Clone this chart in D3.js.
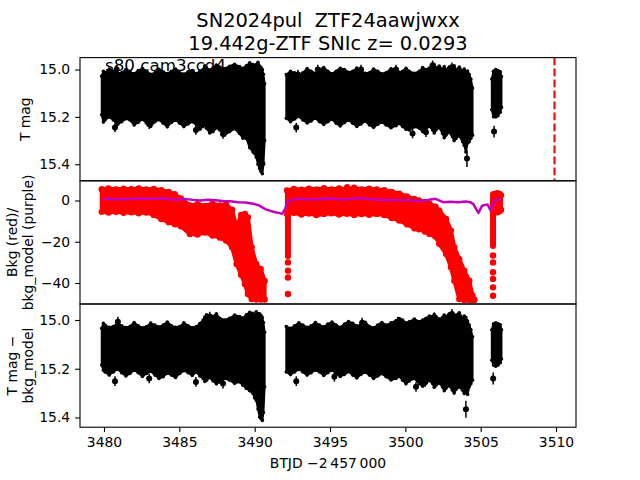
<!DOCTYPE html>
<html>
<head>
<meta charset="utf-8">
<script src="https://d3js.org/d3.v7.min.js"></script>
<style>
  body { margin: 0; background: #fff; }
  text { font-family: "DejaVu Sans", sans-serif; white-space: pre; }
</style>
</head>
<body>
<script>

 /*  Data  */

 // top panel: T mag, dense band given as upper / lower edge per time
 var segA_t = [3479.85, 3479.96, 3480.07, 3480.35, 3480.62, 3480.90, 3481.17, 3481.45, 3481.72, 3482.00,
               3482.27, 3482.55, 3482.83, 3483.10, 3483.38, 3483.65, 3483.93, 3484.20, 3484.48, 3484.75,
               3485.03, 3485.30, 3485.58, 3485.86, 3486.14, 3486.36, 3486.58, 3486.69, 3486.80, 3487.02,
               3487.24, 3487.46, 3487.68, 3488.01, 3488.34, 3488.67, 3489.00, 3489.22, 3489.45, 3489.67,
               3489.89, 3490.00, 3490.11, 3490.22, 3490.33, 3490.42, 3490.51, 3490.58, 3490.66];
 var tmagTopA = [15.028, 15.008, 15.014, 14.998, 15.007, 15.016, 15.014, 15.000, 15.010, 15.018,
                 15.004, 14.996, 15.007, 15.020, 15.014, 14.999, 15.010, 15.017, 15.007, 14.998,
                 15.014, 15.019, 15.010, 15.004, 15.018, 15.006, 15.000, 14.984, 14.993, 15.002,
                 14.993, 14.981, 14.990, 14.996, 14.986, 14.978, 14.988, 14.995, 14.984, 14.972,
                 14.979, 14.986, 14.979, 14.970, 14.985, 14.992, 15.000, 15.020, 15.060];
 var tmagBotA = [15.191, 15.222, 15.213, 15.200, 15.213, 15.232, 15.220, 15.208, 15.213, 15.234,
                 15.223, 15.210, 15.227, 15.240, 15.220, 15.212, 15.227, 15.242, 15.223, 15.214,
                 15.227, 15.241, 15.230, 15.220, 15.234, 15.252, 15.240, 15.232, 15.248, 15.268,
                 15.262, 15.246, 15.255, 15.276, 15.262, 15.250, 15.270, 15.290, 15.291, 15.330,
                 15.348, 15.355, 15.370, 15.400, 15.418, 15.430, 15.440, 15.400, 15.300];

 var segB_t = [3492.10, 3492.38, 3492.65, 3492.93, 3493.20, 3493.48, 3493.75, 3494.03, 3494.30, 3494.58,
               3494.86, 3495.13, 3495.41, 3495.68, 3495.96, 3496.23, 3496.51, 3496.78, 3497.06, 3497.34,
               3497.62, 3497.89, 3498.17, 3498.44, 3498.72, 3499.05, 3499.38, 3499.60, 3499.82, 3500.04,
               3500.26, 3500.60, 3500.93, 3501.15, 3501.37, 3501.59, 3501.81, 3501.92, 3502.03, 3502.25,
               3502.47, 3502.58, 3502.69, 3502.91, 3503.13, 3503.24, 3503.36, 3503.58, 3503.80, 3503.91,
               3504.02, 3504.13, 3504.24, 3504.35, 3504.46];
 var tmagTopB = [15.021, 15.008, 15.014, 15.022, 15.014, 14.996, 15.007, 15.016, 15.000, 14.992,
                 15.007, 15.018, 15.007, 14.995, 15.000, 15.012, 15.007, 14.994, 15.007, 15.016,
                 15.014, 14.998, 15.007, 15.018, 15.014, 14.997, 15.000, 15.012, 15.007, 14.995,
                 15.007, 15.016, 15.007, 14.992, 15.000, 14.994, 14.986, 14.980, 14.993, 14.985,
                 15.000, 14.988, 15.000, 14.990, 14.993, 14.984, 15.000, 14.990, 15.007, 14.998,
                 15.014, 15.006, 15.021, 15.040, 15.078];
 var tmagBotB = [15.206, 15.220, 15.209, 15.198, 15.213, 15.226, 15.217, 15.206, 15.220, 15.232,
                 15.220, 15.210, 15.227, 15.238, 15.224, 15.214, 15.227, 15.240, 15.230, 15.218,
                 15.234, 15.244, 15.231, 15.222, 15.234, 15.246, 15.237, 15.228, 15.241, 15.252,
                 15.255, 15.242, 15.248, 15.262, 15.251, 15.240, 15.255, 15.268, 15.255, 15.245,
                 15.270, 15.288, 15.277, 15.265, 15.284, 15.300, 15.291, 15.280, 15.305, 15.320,
                 15.348, 15.310, 15.305, 15.290, 15.277];

 var segC_t = [3505.74, 3505.85, 3506.00, 3506.15, 3506.30, 3506.38];
 var tmagTopC = [15.040, 15.007, 15.000, 15.004, 15.010, 15.030];
 var tmagBotC = [15.170, 15.199, 15.200, 15.195, 15.180, 15.160];

 // isolated points with error bars (top panel)
 var tmagOutT = [3480.73, 3480.84, 3483.00, 3486.10, 3487.90, 3490.51, 3492.76, 3492.87, 3494.19, 3497.06, 3499.38, 3500.48, 3501.37, 3501.81, 3503.09, 3504.09, 3505.89];
 var tmagOutV = [15.245, 15.000, 15.231, 15.255, 15.272, 15.397, 15.245, 15.021, 15.000, 15.000, 15.000, 15.270, 15.265, 14.982, 14.990, 15.376, 15.262];
 var tmagOutE = [0.020, 0.020, 0.020, 0.020, 0.020, 0.035, 0.020, 0.020, 0.020, 0.020, 0.020, 0.020, 0.020, 0.020, 0.020, 0.035, 0.025];

 // peak time marker
 var peakT = 3509.9;

 // bottom panel: T mag - bkg_model (same time grid as the top panel)
 var detTopA = [15.034, 15.014, 15.021, 15.030, 15.027, 15.012, 15.024, 15.031, 15.027, 15.010,
                15.024, 15.032, 15.027, 15.013, 15.021, 15.028, 15.021, 15.008, 15.024, 15.030,
                15.027, 15.012, 15.024, 15.031, 15.027, 15.015, 15.000, 14.988, 14.979, 14.992,
                14.986, 14.975, 14.993, 15.000, 14.993, 14.980, 14.986, 14.992, 14.979, 14.968,
                14.973, 14.982, 14.966, 14.975, 14.975, 14.982, 14.990, 15.010, 15.050];
 var detBotA = [15.185, 15.206, 15.213, 15.226, 15.213, 15.202, 15.216, 15.230, 15.219, 15.206,
                15.216, 15.232, 15.219, 15.210, 15.226, 15.240, 15.233, 15.218, 15.226, 15.236,
                15.219, 15.208, 15.216, 15.228, 15.213, 15.230, 15.240, 15.252, 15.247, 15.236,
                15.250, 15.262, 15.254, 15.240, 15.247, 15.260, 15.254, 15.268, 15.281, 15.290,
                15.302, 15.320, 15.330, 15.365, 15.398, 15.405, 15.412, 15.380, 15.274];
 var detTopB = [15.027, 15.034, 15.024, 15.012, 15.021, 15.030, 15.024, 15.010, 15.021, 15.028,
                15.017, 15.008, 15.021, 15.030, 15.017, 15.006, 15.014, 15.024, 15.021, 15.009,
                15.027, 15.032, 15.021, 15.010, 15.021, 15.012, 15.003, 14.994, 15.000, 15.012,
                15.007, 14.996, 15.007, 15.000, 14.993, 14.984, 14.986, 14.978, 14.986, 14.996,
                14.990, 14.980, 14.986, 14.975, 14.973, 14.984, 14.980, 14.970, 14.993, 14.984,
                14.990, 15.004, 15.021, 15.040, 15.069];
 var detBotB = [15.213, 15.224, 15.213, 15.203, 15.213, 15.226, 15.216, 15.206, 15.213, 15.228,
                15.216, 15.206, 15.219, 15.232, 15.223, 15.212, 15.226, 15.238, 15.223, 15.214,
                15.226, 15.240, 15.230, 15.220, 15.233, 15.246, 15.240, 15.232, 15.247, 15.262,
                15.250, 15.240, 15.261, 15.272, 15.258, 15.248, 15.261, 15.276, 15.268, 15.258,
                15.275, 15.290, 15.281, 15.270, 15.288, 15.300, 15.285, 15.275, 15.288, 15.302,
                15.290, 15.305, 15.274, 15.262, 15.247];
 var detTopC = [15.040, 15.016, 15.012, 15.016, 15.020, 15.040];
 var detBotC = [15.165, 15.185, 15.190, 15.185, 15.175, 15.160];

 var detOutT = [3480.73, 3480.92, 3483.00, 3486.10, 3487.02, 3487.90, 3490.40, 3492.76, 3495.29, 3497.13, 3499.49, 3500.71, 3501.33, 3501.92, 3503.09, 3504.02, 3505.83];
 var detOutV = [15.251, 15.007, 15.240, 15.254, 14.986, 15.261, 15.370, 15.251, 15.233, 15.011, 15.007, 15.274, 15.254, 14.989, 14.975, 15.366, 15.240];
 var detOutE = [0.020, 0.020, 0.020, 0.020, 0.020, 0.020, 0.035, 0.020, 0.020, 0.020, 0.020, 0.020, 0.020, 0.020, 0.020, 0.035, 0.025];

 // middle panel: background (red) band edges
 var bkgA_t = [3479.85, 3480.30, 3480.80, 3481.30, 3481.80, 3482.30, 3482.80, 3483.30, 3483.80, 3484.30, 3484.70, 3485.10, 3485.70, 3486.20, 3486.70, 3487.20, 3487.70, 3488.10, 3488.50, 3488.80, 3489.10, 3489.35, 3489.55, 3489.80, 3490.10, 3490.40, 3490.66];
 var bkgTopA = [5.5, 5.8, 5.4, 5.7, 5.5, 5.9, 5.4, 5.6, 5.0, 4.2, 3.0, 1.0, -2.4, -1.8, -2.6, -1.5, -2.4, -1.9, -4.5, -13.0, -7.0, -6.5, -8.1, -22.7, -30.8, -33.2, -39.0];
 var bkgBotA = [-5.5, -5.8, -5.5, -6.0, -5.7, -6.2, -5.8, -7.0, -9.0, -10.5, -11.5, -12.5, -16.2, -16.5, -15.5, -17.0, -18.0, -19.4, -22.7, -30.8, -36.0, -40.5, -45.3, -47.8, -48.0, -48.0, -48.0];

 var bkgB_t = [3492.15, 3492.60, 3493.10, 3493.60, 3494.10, 3494.60, 3495.10, 3495.60, 3496.10, 3496.60, 3497.10, 3497.60, 3498.10, 3498.60, 3499.10, 3499.60, 3500.10, 3500.60, 3500.90, 3501.30, 3501.60, 3502.00, 3502.25, 3502.70, 3503.03, 3503.25, 3503.58, 3503.91, 3504.24, 3504.46, 3504.57];
 var bkgTopB = [4.9, 5.6, 5.2, 5.7, 5.4, 6.0, 5.3, 5.8, 5.5, 6.2, 5.4, 5.7, 5.3, 5.0, 4.2, 3.3, 2.0, 0.8, 0.0, -0.8, -1.5, -3.0, -4.9, -8.9, -14.6, -22.7, -28.4, -34.0, -38.9, -46.2, -48.0];
 var bkgBotB = [-6.5, -6.0, -6.8, -6.3, -7.0, -6.5, -6.2, -6.8, -6.4, -7.0, -6.6, -6.9, -6.5, -7.0, -8.5, -9.7, -11.5, -13.5, -14.0, -15.0, -16.2, -17.5, -21.0, -25.9, -32.4, -38.9, -47.8, -48.2, -48.2, -48.2, -48.2];

 var bkgC_t = [3505.85, 3505.95, 3506.10, 3506.25, 3506.35];
 var bkgTopC = [2.0, 3.2, 3.5, 3.2, 2.5];
 var bkgBotC = [-4.0, -5.7, -5.7, -5.2, -4.5];

 // vertical streaks of red points at the start of segments
 var bkgColT = [3492.21, 3505.82];
 var bkgColTop = [4.5, 3.0];
 var bkgColBot = [-27.0, -22.0];
 var bkgDotT = [3492.21, 3492.21, 3492.21, 3492.21, 3505.82, 3505.82, 3505.82, 3505.82, 3505.82, 3505.82, 3496.14];
 var bkgDotV = [-30.0, -34.0, -37.3, -45.3, -26.7, -30.0, -34.8, -38.0, -42.1, -46.2, 6.5];

 // bkg_model (purple)
 var modelT = [3479.9, 3480.4, 3480.9, 3481.4, 3481.9, 3482.4, 3482.9, 3483.4, 3483.9, 3484.4,
               3484.9, 3485.4, 3485.9, 3486.4, 3486.9, 3487.4, 3487.9, 3488.4, 3488.9, 3489.4,
               3489.9, 3490.3, 3490.7, 3491.0, 3491.3, 3491.6, 3491.8, 3492.0, 3492.2, 3492.5,
               3493.0, 3493.5, 3494.0, 3494.5, 3495.0, 3495.5, 3496.0, 3496.5, 3497.0, 3497.5,
               3498.0, 3498.5, 3499.0, 3499.5, 3500.0, 3500.5, 3501.0, 3501.5, 3502.0, 3502.5,
               3503.0, 3503.5, 3504.0, 3504.3, 3504.5, 3504.85, 3505.1, 3505.45, 3505.67, 3505.95,
               3506.35];
 var modelV = [0.6, 0.9, 0.5, 0.8, 0.6, 1.0, 0.7, 0.9, 1.1, 0.6,
               0.4, 0.7, 0.3, 0.0, 0.4, 0.1, -0.2, -0.4, -0.8, -1.0,
               -1.6, -2.4, -4.2, -4.9, -5.6, -6.0, -6.5, -4.5, -0.5, 0.4,
               0.8, 0.5, 0.9, 0.6, 1.0, 0.7, 0.5, 0.9, 1.2, 0.8,
               0.5, 0.2, 0.4, 0.0, 0.3, 0.0, -0.3, 0.2, 0.8, -0.8,
               -0.6, -0.9, -0.5, -0.8, -1.6, -6.0, -2.5, -1.9, -4.9, 0.0,
               0.8];

 // ticks
 var xTicks = [3480, 3485, 3490, 3495, 3500, 3505, 3510];
 var magTicks = [15.0, 15.2, 15.4];
 var magTickLabels = ["15.0", "15.2", "15.4"];
 var bkgTicks = [0, -20, -40];
 var bkgTickLabels = ["0", "\u221220", "\u221240"];

 var titleLines = ["SN2024pul  ZTF24aawjwxx", "19.442g-ZTF SNIc z= 0.0293"];
 var cornerNote = "s80 cam3ccd4";


 /*  Display Settings  */

 var W = 640, H = 480;
 var margin = {top: 57.6, right: 64, bottom: 52.8, left: 80};
 var plotW = W - margin.left - margin.right;
 var panelH = (H - margin.top - margin.bottom) / 3;
 var tickFont = 13.9;

 var svg = d3.select("body").append("svg")
   .attr("width", W)
   .attr("height", H)
   .style("background", "#fff");

 var x = d3.scaleLinear().domain([3478.407, 3511.327]).range([margin.left, margin.left + plotW]);

 // three stacked panels
 var p1Top = margin.top, p2Top = margin.top + panelH, p3Top = margin.top + 2 * panelH;
 var yMag = d3.scaleLinear().domain([14.9497, 15.4697]).range([p1Top, p1Top + panelH]);
 var yBkg = d3.scaleLinear().domain([9.55, -50.18]).range([p2Top, p2Top + panelH]);
 var yDet = d3.scaleLinear().domain([14.9344, 15.4398]).range([p3Top, p3Top + panelH]);

 /**
  * dense band between two edges, with round markers on its edges
  */
 function drawBand(y, ts, top, bot, color, sw, r) {
   var rows = ts.map(function (t, i) { return {t: t, a: top[i], b: bot[i]}; });
   var area = d3.area()
     .x(function (d) { return x(d.t); })
     .y0(function (d) { return y(d.b); })
     .y1(function (d) { return y(d.a); });
   svg.append("path")
     .datum(rows)
     .attr("d", area)
     .attr("fill", color)
     .attr("stroke", color)
     .attr("stroke-width", sw)
     .attr("stroke-linejoin", "round");

   var edge = [];
   rows.forEach(function (d) { edge.push([d.t, d.a]); edge.push([d.t, d.b]); });
   svg.append("g").selectAll("circle").data(edge).enter().append("circle")
     .attr("cx", function (d) { return x(d[0]); })
     .attr("cy", function (d) { return y(d[1]); })
     .attr("r", r)
     .attr("fill", color);
 }

 /**
  * single points with vertical error bars
  */
 function drawOutliers(y, ts, vs, es) {
   var rows = ts.map(function (t, i) { return {t: t, v: vs[i], e: es[i]}; });
   var g = svg.append("g");
   g.selectAll("line").data(rows).enter().append("line")
     .attr("x1", function (d) { return x(d.t); })
     .attr("x2", function (d) { return x(d.t); })
     .attr("y1", function (d) { return y(d.v - d.e); })
     .attr("y2", function (d) { return y(d.v + d.e); })
     .attr("stroke", "black")
     .attr("stroke-width", 1.5);
   g.selectAll("circle").data(rows).enter().append("circle")
     .attr("cx", function (d) { return x(d.t); })
     .attr("cy", function (d) { return y(d.v); })
     .attr("r", 3)
     .attr("fill", "black");
 }

 function drawYAxis(y, ticks, labels) {
   var ax = svg.append("g")
     .attr("transform", "translate(" + margin.left + ",0)")
     .call(d3.axisLeft(y).tickValues(ticks)
       .tickFormat(function (d, i) { return labels[i]; })
       .tickSize(4.9).tickPadding(4.9).tickSizeOuter(0));
   ax.select(".domain").remove();
   ax.selectAll("line").attr("stroke-width", 1.1);
   ax.selectAll("text").attr("font-size", tickFont).attr("font-family", "DejaVu Sans").attr("fill", "black");
 }

 function drawYLabel(lines, yc, xs) {
   lines.forEach(function (s, i) {
     svg.append("text")
       .attr("transform", "translate(" + xs[i] + "," + yc + ") rotate(-90)")
       .attr("text-anchor", "middle")
       .attr("font-size", tickFont)
       .text(s);
   });
 }

 // top panel
 drawBand(yMag, segA_t, tmagTopA, tmagBotA, "black", 2, 1.8);
 drawBand(yMag, segB_t, tmagTopB, tmagBotB, "black", 2, 1.8);
 drawBand(yMag, segC_t, tmagTopC, tmagBotC, "black", 2, 1.8);
 drawOutliers(yMag, tmagOutT, tmagOutV, tmagOutE);

 svg.append("line")
   .attr("x1", x(peakT)).attr("x2", x(peakT))
   .attr("y1", p1Top).attr("y2", p1Top + panelH)
   .attr("stroke", "red")
   .attr("stroke-width", 2.1)
   .attr("stroke-dasharray", "7.7,3.3");

 // middle panel
 drawBand(yBkg, bkgA_t, bkgTopA, bkgBotA, "red", 4, 3.2);
 drawBand(yBkg, bkgB_t, bkgTopB, bkgBotB, "red", 4, 3.2);
 drawBand(yBkg, bkgC_t, bkgTopC, bkgBotC, "red", 4, 3.2);

 bkgColT.forEach(function (t, i) {
   svg.append("line")
     .attr("x1", x(t)).attr("x2", x(t))
     .attr("y1", yBkg(bkgColTop[i])).attr("y2", yBkg(bkgColBot[i]))
     .attr("stroke", "red")
     .attr("stroke-width", 6)
     .attr("stroke-linecap", "round");
 });
 svg.append("g").selectAll("circle")
   .data(bkgDotT.map(function (t, i) { return {t: t, v: bkgDotV[i]}; }))
   .enter().append("circle")
   .attr("cx", function (d) { return x(d.t); })
   .attr("cy", function (d) { return yBkg(d.v); })
   .attr("r", 3.2)
   .attr("fill", "red");

 var modelLine = d3.line()
   .x(function (d) { return x(d[0]); })
   .y(function (d) { return yBkg(d[1]); });
 svg.append("path")
   .datum(modelT.map(function (t, i) { return [t, modelV[i]]; }))
   .attr("d", modelLine)
   .attr("fill", "none")
   .attr("stroke", "#bf00bf")
   .attr("stroke-width", 2.5)
   .attr("stroke-linejoin", "round");

 // bottom panel
 drawBand(yDet, segA_t, detTopA, detBotA, "black", 2, 1.8);
 drawBand(yDet, segB_t, detTopB, detBotB, "black", 2, 1.8);
 drawBand(yDet, segC_t, detTopC, detBotC, "black", 2, 1.8);
 drawOutliers(yDet, detOutT, detOutV, detOutE);

 // frames
 [p1Top, p2Top, p3Top].forEach(function (t) {
   svg.append("rect")
     .attr("x", margin.left).attr("y", t)
     .attr("width", plotW).attr("height", panelH)
     .attr("fill", "none")
     .attr("stroke", "black")
     .attr("stroke-width", 1.1);
 });

 // axes
 drawYAxis(yMag, magTicks, magTickLabels);
 drawYAxis(yBkg, bkgTicks, bkgTickLabels);
 drawYAxis(yDet, magTicks, magTickLabels);

 var xa = svg.append("g")
   .attr("transform", "translate(0," + (p3Top + panelH) + ")")
   .call(d3.axisBottom(x).tickValues(xTicks).tickFormat(d3.format("d"))
     .tickSize(4.9).tickPadding(4.9).tickSizeOuter(0));
 xa.select(".domain").remove();
 xa.selectAll("line").attr("stroke-width", 1.1);
 xa.selectAll("text").attr("font-size", tickFont).attr("font-family", "DejaVu Sans").attr("fill", "black");

 // labels
 drawYLabel(["T mag"], p1Top + panelH / 2, [29.5]);
 drawYLabel(["Bkg (red)/", "bkg_model (purple)"], p2Top + panelH / 2, [16.7, 33.4]);
 drawYLabel(["T mag \u2212", "bkg_model"], p3Top + panelH / 2, [16.7, 33.4]);

 svg.append("text")
   .attr("x", margin.left + plotW / 2)
   .attr("y", 468)
   .attr("text-anchor", "middle")
   .attr("font-size", tickFont)
   .text("BTJD \u22122\u2009457\u2009000");

 titleLines.forEach(function (s, i) {
   svg.append("text")
     .attr("x", margin.left + plotW / 2)
     .attr("y", 27 + i * 23.3)
     .attr("text-anchor", "middle")
     .attr("font-size", 19.4)
     .text(s);
 });

 svg.append("text")
   .attr("x", 105)
   .attr("y", 70.5)
   .attr("font-size", 16.7)
   .text(cornerNote);

</script>
</body>
</html>
